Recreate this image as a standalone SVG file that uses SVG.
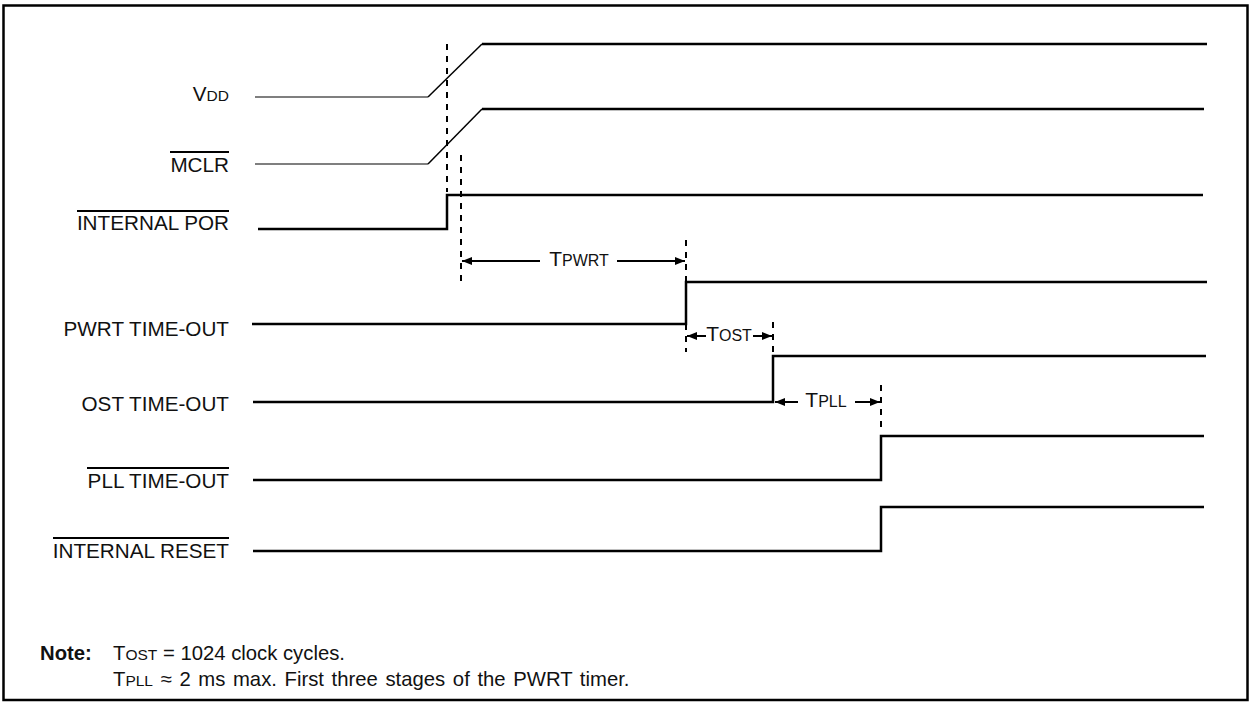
<svg xmlns="http://www.w3.org/2000/svg" width="1250" height="702" viewBox="0 0 1250 702">
<style>
.lbl{font-family:"Liberation Sans",Arial,sans-serif;font-size:20.7px;fill:#111;text-anchor:end}
.sm{font-size:15.5px}
.sig{fill:none;stroke:#000;stroke-width:2.5}
.thin{fill:none;stroke:#555;stroke-width:1.5}
.ovl{stroke:#000;stroke-width:2}
.dash{stroke:#000;stroke-width:2;stroke-dasharray:6 6}
.arr{stroke:#000;stroke-width:2;fill:none}
.t{font-family:"Liberation Sans",Arial,sans-serif;font-size:21px;fill:#111}
.n{font-family:"Liberation Sans",Arial,sans-serif;font-size:20.3px;fill:#111}
</style>
<defs>
<marker id="ah" viewBox="0 0 10 8" refX="10" refY="4" markerWidth="10" markerHeight="8" markerUnits="userSpaceOnUse" orient="auto">
<path d="M0,0 L10,4 L0,8 z" fill="#000"/>
</marker>
</defs>
<rect x="3.5" y="5.5" width="1244" height="694.5" fill="#fff" stroke="#000" stroke-width="2.5"/>

<g id="vdd">
<text class="lbl" x="229" y="101">V<tspan class="sm">DD</tspan></text>
<polyline class="thin" points="255,97 428,97"/>
<polyline class="sig" style="stroke-width:1.5" points="428,97 482,44"/>
<polyline class="sig" points="482,44 1207,44"/>
</g>

<g id="mclr">
<text class="lbl" x="229" y="172">MCLR</text>
<line class="ovl" x1="170" y1="152" x2="229" y2="152"/>
<polyline class="thin" points="255,164 428,164"/>
<polyline class="sig" style="stroke-width:1.5" points="428,164 482,109"/>
<polyline class="sig" points="482,109 1204,109"/>
</g>

<g id="internal-por">
<text class="lbl" x="229" y="230">INTERNAL POR</text>
<line class="ovl" x1="77" y1="211" x2="229" y2="211"/>
<polyline class="sig" points="258,229 447,229 447,195 1203,195"/>
</g>

<g id="pwrt-timeout">
<text class="lbl" x="229" y="336">PWRT TIME-OUT</text>
<polyline class="sig" points="252,324 686,324 686,282 1207,282"/>
</g>

<g id="ost-timeout">
<text class="lbl" x="229" y="411">OST TIME-OUT</text>
<polyline class="sig" points="253,402 773,402 773,356 1206,356"/>
</g>

<g id="pll-timeout">
<text class="lbl" x="229" y="488">PLL TIME-OUT</text>
<line class="ovl" x1="87" y1="468" x2="229" y2="468"/>
<polyline class="sig" points="253,480 881,480 881,436 1204,436"/>
</g>

<g id="internal-reset">
<text class="lbl" x="229" y="558">INTERNAL RESET</text>
<line class="ovl" x1="53" y1="538" x2="229" y2="538"/>
<polyline class="sig" points="253,551 881,551 881,507 1204,507"/>
</g>

<g id="connectors">
<line class="dash" x1="447" y1="44" x2="447" y2="192"/>
<line class="dash" x1="461" y1="155" x2="461" y2="285"/>
<line class="dash" x1="686" y1="240" x2="686" y2="352"/>
<line class="dash" x1="773" y1="322" x2="773" y2="352"/>
<line class="dash" x1="881" y1="385" x2="881" y2="432"/>
<line class="arr" x1="540" y1="261" x2="462" y2="261" marker-end="url(#ah)"/>
<line class="arr" x1="617" y1="261" x2="685" y2="261" marker-end="url(#ah)"/>
<line class="arr" x1="706" y1="336" x2="687" y2="336" marker-end="url(#ah)"/>
<line class="arr" x1="753" y1="336" x2="772" y2="336" marker-end="url(#ah)"/>
<line class="arr" x1="798" y1="402" x2="775" y2="402" marker-end="url(#ah)"/>
<line class="arr" x1="855" y1="402" x2="880" y2="402" marker-end="url(#ah)"/>
</g>

<g id="timing-labels">
<text class="t" x="579" y="266" text-anchor="middle">T<tspan class="sm" style="font-size:16px">PWRT</tspan></text>
<text class="t" x="729" y="341" text-anchor="middle">T<tspan class="sm" style="font-size:16px">OST</tspan></text>
<text class="t" x="826" y="407" text-anchor="middle">T<tspan class="sm" style="font-size:16px">PLL</tspan></text>
</g>

<g id="note">
<text class="n" x="40" y="660" style="font-weight:bold">Note:</text>
<text class="n" x="113" y="660">T<tspan class="sm">OST</tspan> = 1024 clock cycles.</text>
<text class="n" x="113" y="686" style="word-spacing:2px">T<tspan class="sm">PLL</tspan> ≈ 2 ms max. First three stages of the PWRT timer.</text>
</g>
</svg>
